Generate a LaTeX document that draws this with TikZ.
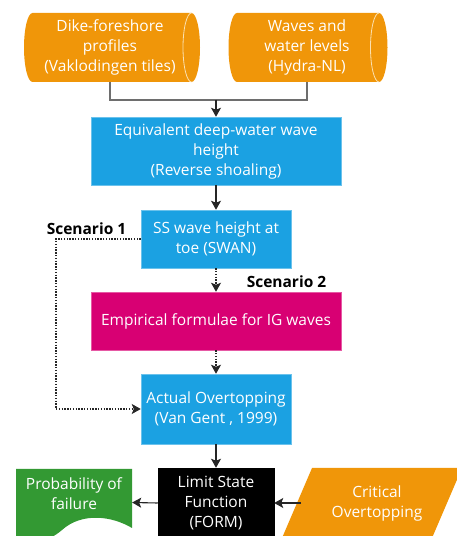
\documentclass[tikz,border=0pt]{standalone}
\usepackage{fontspec}
\setmainfont{Open Sans}
\usetikzlibrary{arrows.meta}
\definecolor{morange}{HTML}{F09609}
\definecolor{mblue}{HTML}{1BA1E2}
\definecolor{mmagenta}{HTML}{D80073}
\definecolor{mgreen}{HTML}{339933}
\definecolor{lgray}{HTML}{6E6E6E}
\definecolor{cylline}{HTML}{FBE0B0}
\begin{document}
\begin{tikzpicture}[x=1pt,y=1pt,
  txt/.style={font=\fontsize{15.5}{20}\selectfont, align=center, inner sep=0pt, text=white},
  box/.style={txt, rectangle, fill=#1, draw=#1!65!white, line width=0.5pt},
  scen/.style={font=\fontsize{15.5}{18}\selectfont\bfseries, inner sep=0pt, text=black},
  conn/.style={draw=lgray, line width=1.3pt},
  arr/.style={draw=black!85, line width=1.1pt, -{Stealth[length=9pt,width=10pt,inset=2pt]}},
  darr/.style={arr, dash pattern=on 1.4pt off 1.4pt},
  cylfill/.style={fill=morange},
  cylarc/.style={draw=cylline, line width=0.8pt}
]
\useasboundingbox (0,0) rectangle (456,536);
% cylinders
\fill[cylfill] (32.5,523) -- (191.5,523) arc[start angle=90,end angle=-90,x radius=8.5,y radius=34.5]
  -- (32.5,454) arc[start angle=270,end angle=90,x radius=8.5,y radius=34.5] -- cycle;
\draw[cylarc] (191.5,523) arc[start angle=90,end angle=270,x radius=8.5,y radius=34.5];
\fill[cylfill] (237,523) -- (379,523) arc[start angle=90,end angle=-90,x radius=8.5,y radius=34.5]
  -- (237,454) arc[start angle=270,end angle=90,x radius=8.5,y radius=34.5] -- cycle;
\draw[cylarc] (379,523) arc[start angle=90,end angle=270,x radius=8.5,y radius=34.5];
\node[txt, minimum width=159, minimum height=69] (dike) at (110,488.5) {Dike-foreshore\\profiles\\(Vaklodingen tiles)};
\node[txt, minimum width=142, minimum height=69] (waves) at (307,488.5) {Waves and\\water levels\\(Hydra-NL)};
% boxes
\node[box=mblue, minimum width=250, minimum height=68] (eq) at (216,385) {Equivalent deep-water wave\\height\\(Reverse shoaling)};
\node[box=mblue, minimum width=150, minimum height=58] (ss) at (216,297) {SS wave height at\\toe (SWAN)};
\node[box=mmagenta, minimum width=250, minimum height=58] (emp) at (216,215) {Empirical formulae for IG waves};
\node[box=mblue, minimum width=150, minimum height=70] (act) at (216,127) {Actual Overtopping\\(Van Gent , 1999)};
\node[box=black, draw=black, minimum width=116, minimum height=70] (lsf) at (216,33) {Limit State\\Function\\(FORM)};
% probability of failure (document shape)
\fill[mgreen] (16,67) -- (132,67) -- (132,8) .. controls (112,20) and (82,24) .. (62,6)
  .. controls (48,-6) and (30,-10) .. (16,-10) -- cycle;
\node[inner sep=0pt, minimum width=116, minimum height=67] (pf) at (74,33.5) {};
\node[txt] (pft) at (74,42.5) {Probability of\\failure};
% critical overtopping (parallelogram)
\fill[morange] (282,-2) -- (312,68) -- (462,68) -- (432,-2) -- cycle;
\node[txt] (crit) at (377,33) {Critical\\Overtopping};
\coordinate (critw) at (301,33);
% scenario labels
\node[scen] (sc1) at (86.5,307) {Scenario 1};
\node[scen] (sc2) at (286.5,254) {Scenario 2};
% connectors
\coordinate (j) at (216,436);
\draw[conn] (dike.south) |- (j) -| (waves.south);
\draw[arr] (j) -- (eq.north);
\draw[arr] (eq.south) -- (ss.north);
\draw[darr] (ss.south) -- (emp.north);
\draw[darr] (emp.south) -- (act.north);
\draw[darr] (ss.west) -- (56,297) |- (act.west);
\draw[arr] (act.south) -- (lsf.north);
\draw[arr] (lsf.west) -- (pf.east);
\draw[arr] (critw) -- (lsf.east);
\end{tikzpicture}
\end{document}
